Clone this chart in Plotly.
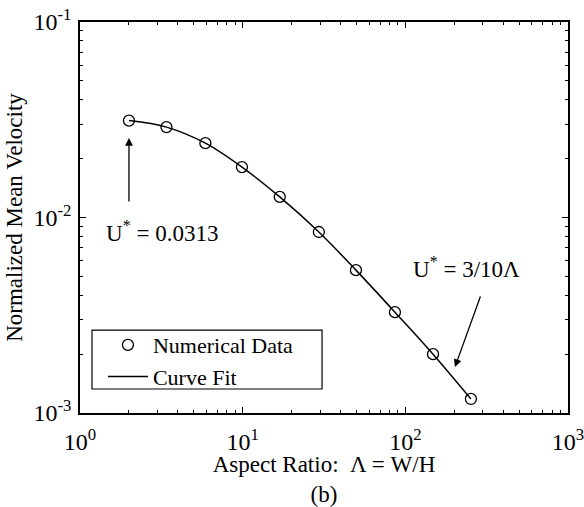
import plotly.graph_objects as go
import math

# Data
aspect_ratio = [2.0, 3.4, 5.9, 9.9, 16.9, 29.4, 49.7, 86.3, 148, 253]
mean_velocity = [0.0313, 0.0290, 0.0240, 0.0181, 0.01274, 0.00843, 0.00538, 0.00328, 0.00200, 0.00118]

x_tick_vals = [1, 10, 100, 1000]
x_tick_text = ["10<sup>0</sup>", "10<sup>1</sup>", "10<sup>2</sup>", "10<sup>3</sup>"]
y_tick_vals = [0.001, 0.01, 0.1]
y_tick_text = ["10<sup>-3</sup>", "10<sup>-2</sup>", "10<sup>-1</sup>"]

FONT = "Liberation Serif, Times New Roman, serif"
FS = 23

fig = go.Figure()
fig.add_trace(go.Scatter(
    x=aspect_ratio, y=mean_velocity, mode="markers", name="Numerical Data",
    marker=dict(symbol="circle-open", size=11, color="black", line=dict(width=1.3, color="black")),
))
fig.add_trace(go.Scatter(
    x=aspect_ratio, y=mean_velocity, mode="lines", name="Curve Fit",
    line=dict(color="black", width=1.5, shape="spline", smoothing=1.0),
))

x_minor = [m * 10 ** d for d in range(3) for m in range(2, 10)]
y_minor = [m * 10 ** d for d in (-3, -2) for m in range(2, 10)]

fig.update_xaxes(
    type="log", range=[0, 3], showgrid=False, zeroline=False, automargin=False,
    showline=True, linecolor="black", linewidth=1.6, mirror="allticks",
    ticks="inside", ticklen=6, tickwidth=1, tickcolor="black",
    tickvals=x_tick_vals, ticktext=x_tick_text, ticklabelstandoff=6,
    ticklabeloverflow="allow",
    tickfont=dict(family=FONT, size=24, color="black"),
    minor=dict(ticks="inside", ticklen=3, tickwidth=1, tickcolor="black", tickvals=x_minor, showgrid=False),
    title=dict(text="Aspect Ratio:  Λ = W/H<br>(b)", font=dict(family=FONT, size=FS, color="black"), standoff=0),
)
fig.update_yaxes(
    type="log", range=[-3, -1], showgrid=False, zeroline=False, automargin=False,
    showline=True, linecolor="black", linewidth=1.6, mirror="allticks",
    ticks="inside", ticklen=6, tickwidth=1, tickcolor="black",
    tickvals=y_tick_vals, ticktext=y_tick_text, ticklabelstandoff=2,
    ticklabeloverflow="allow",
    tickfont=dict(family=FONT, size=24, color="black"),
    minor=dict(ticks="inside", ticklen=3, tickwidth=1, tickcolor="black", tickvals=y_minor, showgrid=False),
    title=dict(text="Normalized Mean Velocity", font=dict(family=FONT, size=FS, color="black"), standoff=4),
)

# Annotations (log axes -> positions in log10 units)
fig.add_annotation(x=math.log10(2.0), y=math.log10(0.0255), xref="x", yref="y", text="",
                   showarrow=True, arrowhead=2, arrowsize=1.2, arrowwidth=1.3, arrowcolor="black",
                   ax=0, ay=65)
fig.add_annotation(x=0.504, y=-2.074, xref="x", yref="y", text="U<sup>*</sup> = 0.0313",
                   showarrow=False, font=dict(family=FONT, size=FS, color="black"))
fig.add_annotation(x=2.305, y=-2.765, xref="x", yref="y", text="",
                   showarrow=True, arrowhead=2, arrowsize=1.2, arrowwidth=1.3, arrowcolor="black",
                   ax=26, ay=-72)
fig.add_annotation(x=2.379, y=-2.258, xref="x", yref="y", text="U<sup>*</sup> = 3/10Λ",
                   showarrow=False, font=dict(family=FONT, size=FS, color="black"))

# Legend frame
fig.add_shape(type="rect", xref="paper", yref="paper", x0=0.0246, x1=0.496, y0=0.0614, y1=0.212,
              line=dict(color="black", width=1.2), fillcolor="white", layer="below")

fig.update_layout(
    width=584, height=507,
    margin=dict(l=80, r=16, t=22, b=94),
    paper_bgcolor="white", plot_bgcolor="white",
    font=dict(family=FONT, size=FS, color="black"),
    showlegend=True,
    legend=dict(x=0.047, y=0.2276, xanchor="left", yanchor="top",
                bgcolor="rgba(0,0,0,0)", borderwidth=0, itemwidth=40,
                font=dict(family=FONT, size=22, color="black"),
                tracegroupgap=0, itemsizing="trace"),
)

fig.write_html("out.html")
